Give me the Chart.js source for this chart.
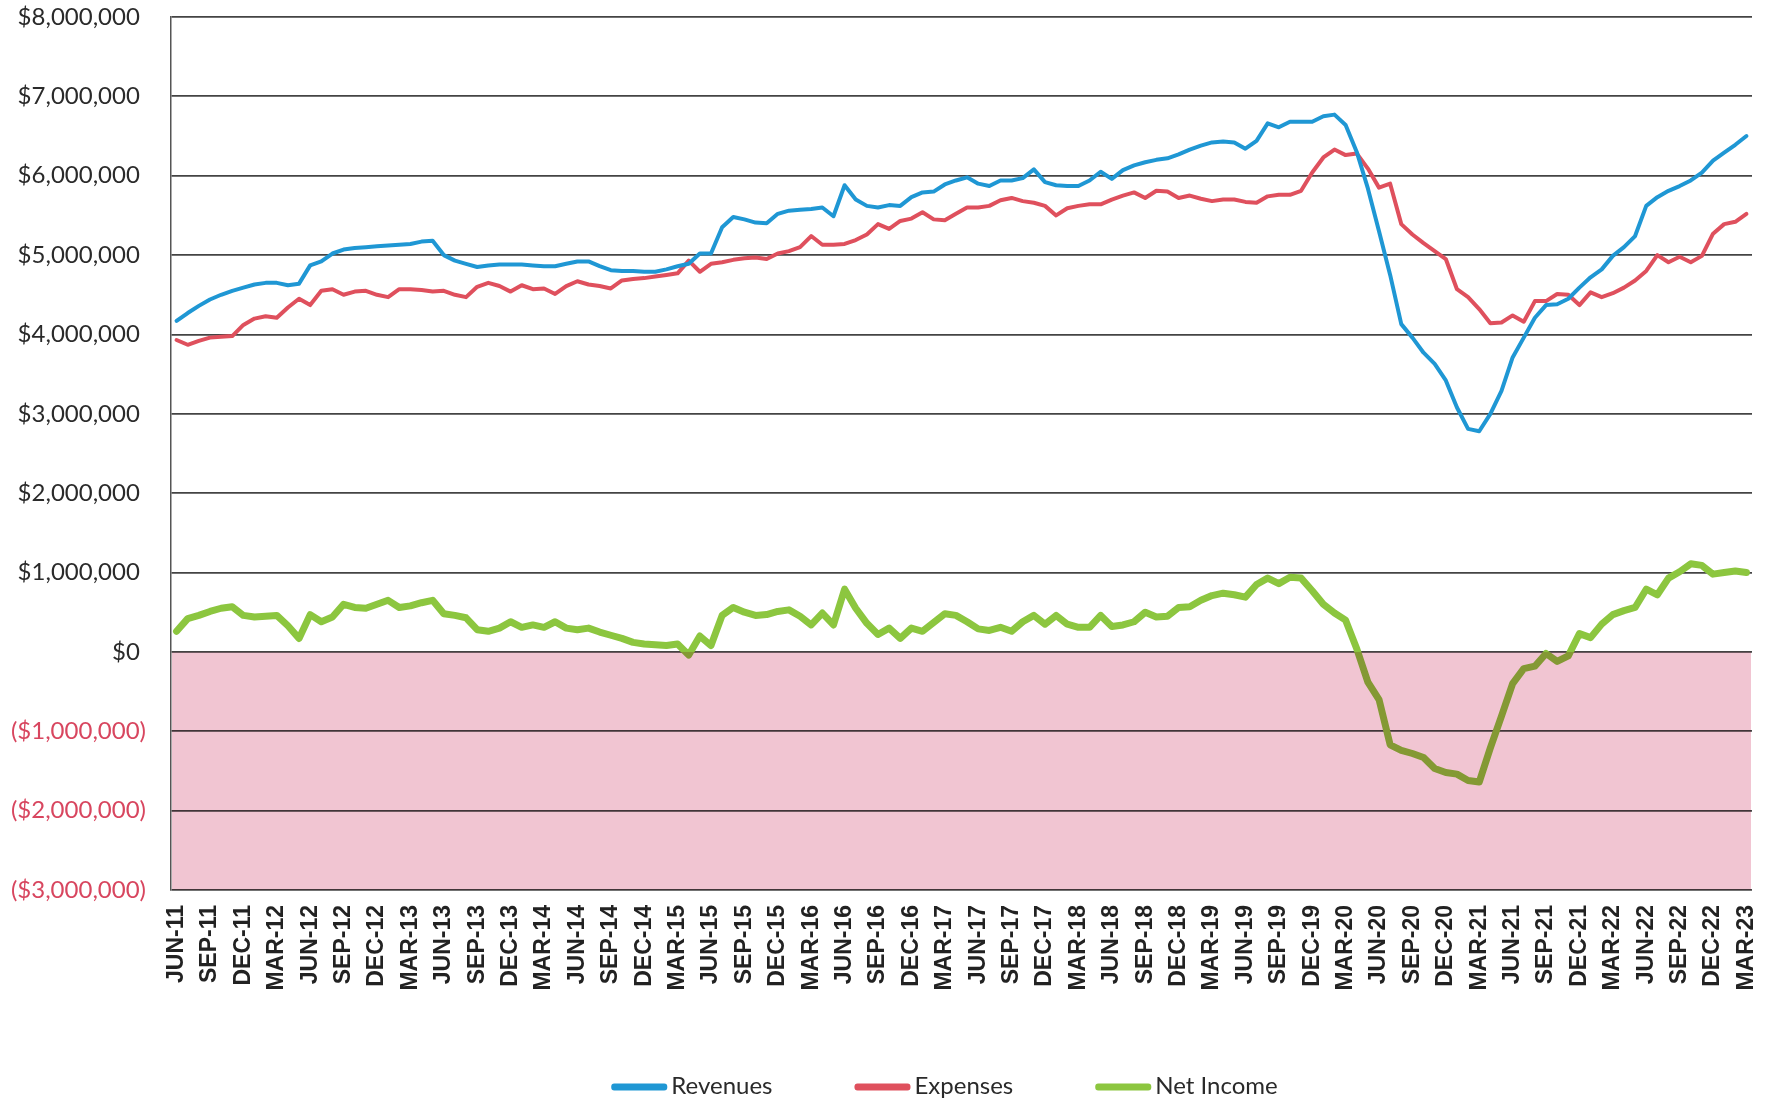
<!DOCTYPE html>
<html><head><meta charset="utf-8">
<script src="https://cdn.jsdelivr.net/npm/chart.js@4.4.1/dist/chart.umd.min.js"></script>
<style>html,body{margin:0;padding:0;background:#fff;}#wrap{width:1771px;height:1100px;}</style>
</head><body><div id="wrap"><canvas id="c" width="1771" height="1100"></canvas></div>
<script>
const categories = [
'JUN-11','JUL-11','AUG-11','SEP-11','OCT-11','NOV-11','DEC-11',
'JAN-12','FEB-12','MAR-12','APR-12','MAY-12','JUN-12','JUL-12','AUG-12','SEP-12','OCT-12','NOV-12','DEC-12',
'JAN-13','FEB-13','MAR-13','APR-13','MAY-13','JUN-13','JUL-13','AUG-13','SEP-13','OCT-13','NOV-13','DEC-13',
'JAN-14','FEB-14','MAR-14','APR-14','MAY-14','JUN-14','JUL-14','AUG-14','SEP-14','OCT-14','NOV-14','DEC-14',
'JAN-15','FEB-15','MAR-15','APR-15','MAY-15','JUN-15','JUL-15','AUG-15','SEP-15','OCT-15','NOV-15','DEC-15',
'JAN-16','FEB-16','MAR-16','APR-16','MAY-16','JUN-16','JUL-16','AUG-16','SEP-16','OCT-16','NOV-16','DEC-16',
'JAN-17','FEB-17','MAR-17','APR-17','MAY-17','JUN-17','JUL-17','AUG-17','SEP-17','OCT-17','NOV-17','DEC-17',
'JAN-18','FEB-18','MAR-18','APR-18','MAY-18','JUN-18','JUL-18','AUG-18','SEP-18','OCT-18','NOV-18','DEC-18',
'JAN-19','FEB-19','MAR-19','APR-19','MAY-19','JUN-19','JUL-19','AUG-19','SEP-19','OCT-19','NOV-19','DEC-19',
'JAN-20','FEB-20','MAR-20','APR-20','MAY-20','JUN-20','JUL-20','AUG-20','SEP-20','OCT-20','NOV-20','DEC-20',
'JAN-21','FEB-21','MAR-21','APR-21','MAY-21','JUN-21','JUL-21','AUG-21','SEP-21','OCT-21','NOV-21','DEC-21',
'JAN-22','FEB-22','MAR-22','APR-22','MAY-22','JUN-22','JUL-22','AUG-22','SEP-22','OCT-22','NOV-22','DEC-22',
'JAN-23','FEB-23','MAR-23'];

const tickLabelsX = ['JUN-11','SEP-11','DEC-11','MAR-12','JUN-12','SEP-12','DEC-12','MAR-13','JUN-13','SEP-13','DEC-13',
'MAR-14','JUN-14','SEP-14','DEC-14','MAR-15','JUN-15','SEP-15','DEC-15','MAR-16','JUN-16','SEP-16','DEC-16',
'MAR-17','JUN-17','SEP-17','DEC-17','MAR-18','JUN-18','SEP-18','DEC-18','MAR-19','JUN-19','SEP-19','DEC-19',
'MAR-20','JUN-20','SEP-20','DEC-20','MAR-21','JUN-21','SEP-21','DEC-21','MAR-22','JUN-22','SEP-22','DEC-22','MAR-23'];

// values in millions of dollars
const yTickValues = [-3,-2,-1,0,1,2,3,4,5,6,7,8];
const yTickLabels = ['($3,000,000)','($2,000,000)','($1,000,000)','$0','$1,000,000','$2,000,000','$3,000,000','$4,000,000','$5,000,000','$6,000,000','$7,000,000','$8,000,000'];

const revenues = [
4.17,4.27,4.36,4.44,4.50,4.55,4.59,4.63,4.65,4.65,4.62,4.64,4.87,4.92,5.02,5.07,5.09,5.10,5.11,5.12,
5.13,5.14,5.17,5.18,5.00,4.93,4.89,4.85,4.87,4.88,4.88,4.88,4.87,4.86,4.86,4.89,4.92,
4.92,4.86,4.81,4.80,4.80,4.79,4.79,4.82,4.86,4.89,5.02,5.02,5.35,5.48,5.45,5.41,5.40,5.52,5.56,5.57,
5.58,5.60,5.49,5.88,5.70,5.62,5.60,5.63,5.62,5.73,5.79,5.80,5.89,5.94,5.98,5.90,
5.87,5.94,5.94,5.97,6.08,5.92,5.88,5.87,5.87,5.94,6.05,5.96,6.07,6.13,6.17,6.20,6.22,6.27,6.33,6.38,
6.42,6.43,6.42,6.34,6.44,6.66,6.61,6.68,6.68,6.68,6.75,6.77,6.64,6.30,5.84,5.30,
4.75,4.13,3.96,3.77,3.63,3.42,3.08,2.81,2.78,3.00,3.29,3.71,3.96,4.21,4.37,4.38,4.45,4.59,4.72,4.82,
4.99,5.10,5.24,5.62,5.73,5.81,5.87,5.94,6.04,6.19,6.29,6.39,6.50];

const expenses = [
3.93,3.87,3.92,3.96,3.97,3.98,4.12,4.20,4.23,4.21,4.34,4.45,4.37,4.55,4.57,4.50,4.54,4.55,4.50,4.47,
4.57,4.57,4.56,4.54,4.55,4.50,4.47,4.60,4.65,4.61,4.54,4.62,4.57,4.58,4.51,4.61,4.67,
4.63,4.61,4.58,4.68,4.70,4.71,4.73,4.75,4.77,4.93,4.79,4.89,4.91,4.94,4.96,4.97,4.95,5.02,5.05,5.10,
5.24,5.13,5.13,5.14,5.19,5.26,5.39,5.33,5.43,5.46,5.54,5.45,5.44,5.52,5.60,5.60,
5.62,5.69,5.72,5.68,5.66,5.62,5.50,5.59,5.62,5.64,5.64,5.70,5.75,5.79,5.72,5.81,5.80,5.72,5.75,5.71,
5.68,5.70,5.70,5.67,5.66,5.74,5.76,5.76,5.81,6.04,6.23,6.33,6.26,6.28,6.09,5.85,
5.90,5.39,5.26,5.15,5.05,4.95,4.57,4.47,4.32,4.14,4.15,4.24,4.16,4.42,4.42,4.51,4.50,4.37,4.53,4.47,
4.52,4.59,4.68,4.80,5.00,4.91,4.98,4.91,4.99,5.27,5.39,5.42,5.52];

const netIncome = [
0.26,0.42,0.46,0.51,0.55,0.57,0.46,0.44,0.45,0.46,0.33,0.17,0.47,0.38,0.44,0.60,0.56,0.55,0.60,0.65,
0.56,0.58,0.62,0.65,0.48,0.46,0.43,0.28,0.26,0.30,0.38,0.31,0.34,0.31,0.38,0.30,0.28,0.30,
0.25,0.21,0.17,0.12,0.10,0.09,0.08,0.10,-0.04,0.20,0.08,0.46,0.56,0.50,0.46,0.47,0.51,0.53,0.45,0.34,
0.49,0.34,0.79,0.55,0.36,0.22,0.30,0.17,0.30,0.26,0.37,0.48,0.46,0.38,0.29,0.27,0.31,0.26,0.38,0.46,
0.35,0.46,0.35,0.31,0.31,0.46,0.32,0.34,0.38,0.50,0.44,0.45,
0.56,0.57,0.65,0.71,0.74,0.72,0.69,0.85,0.93,0.86,0.94,0.93,0.77,0.60,0.49,0.40,0.04,-0.38,-0.60,-1.17,
-1.24,-1.28,-1.33,-1.47,-1.52,-1.54,-1.62,-1.64,-1.21,-0.81,-0.40,-0.21,-0.18,-0.02,-0.12,-0.05,0.23,0.18,0.35,0.47,
0.52,0.56,0.79,0.72,0.93,1.01,1.11,1.09,0.98,1.00,1.02,1.00];

const seriesNames = ['Revenues','Expenses','Net Income'];
const seriesColors = ['#1f97d4','#df505d','#8cc63f'];

const pinkZone = {
  id:'pinkZone',
  afterDatasetsDraw(chart){
    const {ctx, chartArea:a, scales:{y}} = chart;
    const y0 = y.getPixelForValue(0), y1 = y.getPixelForValue(y.min);
    ctx.save();
    ctx.globalCompositeOperation = 'multiply';
    ctx.fillStyle = 'rgb(241,197,210)';
    ctx.fillRect(a.left + 1, y0, a.right - a.left - 2, y1 - y0);
    ctx.restore();
  }
};

const bottomLegend = {
  id:'bottomLegend',
  afterDraw(chart){
    const ctx = chart.ctx, a = chart.chartArea;
    ctx.save();
    ctx.font = '24px Lato';
    ctx.textBaseline = 'middle';
    ctx.textAlign = 'left';
    const boxW = 56, boxH = 7, gap = 4, itemGap = 82;
    const items = chart.data.datasets.map(d => ({text:d.label, color:d.borderColor, tw:ctx.measureText(d.label).width}));
    const total = items.reduce((s,it) => s + boxW + gap + it.tw, 0) + itemGap*(items.length-1);
    let x = (a.left + a.right)/2 - 17 - total/2;
    const yc = 1086;
    items.forEach(it => {
      ctx.fillStyle = it.color;
      ctx.beginPath();
      ctx.roundRect(x, yc - boxH/2 + 1, boxW, boxH, 3);
      ctx.fill();
      ctx.fillStyle = '#2a2a2a';
      ctx.fillText(it.text, x + boxW + gap, yc);
      x += boxW + gap + it.tw + itemGap;
    });
    ctx.restore();
  }
};

const datasets = [revenues, expenses, netIncome].map((arr, k) => ({
  label: seriesNames[k],
  data: arr,
  borderColor: seriesColors[k],
  backgroundColor: seriesColors[k],
  borderWidth: k === 2 ? 7 : 4,
  pointRadius: 0,
  tension: 0,
  borderJoinStyle: 'round',
  borderCapStyle: 'round',
  fill: false
}));

new Chart(document.getElementById('c'), {
  type: 'line',
  data: { labels: categories, datasets },
  options: {
    responsive: false,
    animation: false,
    devicePixelRatio: 1,
    layout: { padding: { left: 0, right: 19, top: 17, bottom: 50 } },
    plugins: { legend: { display: false }, tooltip: { enabled: false } },
    scales: {
      x: {
        offset: true,
        grid: { display: false, drawTicks: false },
        border: { display: false },
        ticks: {
          autoSkip: false, maxRotation: 90, minRotation: 90, padding: 15,
          font: { family: 'Liberation Sans', size: 23, weight: 'bold' },
          color: '#222',
          callback: function(v, i){ const l = categories[i]; return tickLabelsX.includes(l) ? l : null; }
        },
        afterFit(s){ s.height = 160; s.paddingLeft = 0; s.paddingRight = 0; }
      },
      y: {
        min: -3, max: 8,
        afterBuildTicks(scale){ scale.ticks = yTickValues.map(v => ({ value: v })); },
        grid: { color: '#444', lineWidth: 1.8, drawTicks: false },
        border: { display: true, color: '#555', width: 1.5 },
        ticks: {
          padding: 25,
          font: { family: 'Lato', size: 24 },
          color: c => (c.tick && c.tick.value < 0) ? '#d8465f' : '#2a2a2a',
          callback: v => { const l = yTickLabels[yTickValues.indexOf(v)]; return v >= 0 ? l + ' ' : l; }
        },
        afterFit(s){ s.width = 171; s.paddingTop = 0; s.paddingBottom = 0; }
      }
    }
  },
  plugins: [pinkZone, bottomLegend]
});
</script></body></html>
